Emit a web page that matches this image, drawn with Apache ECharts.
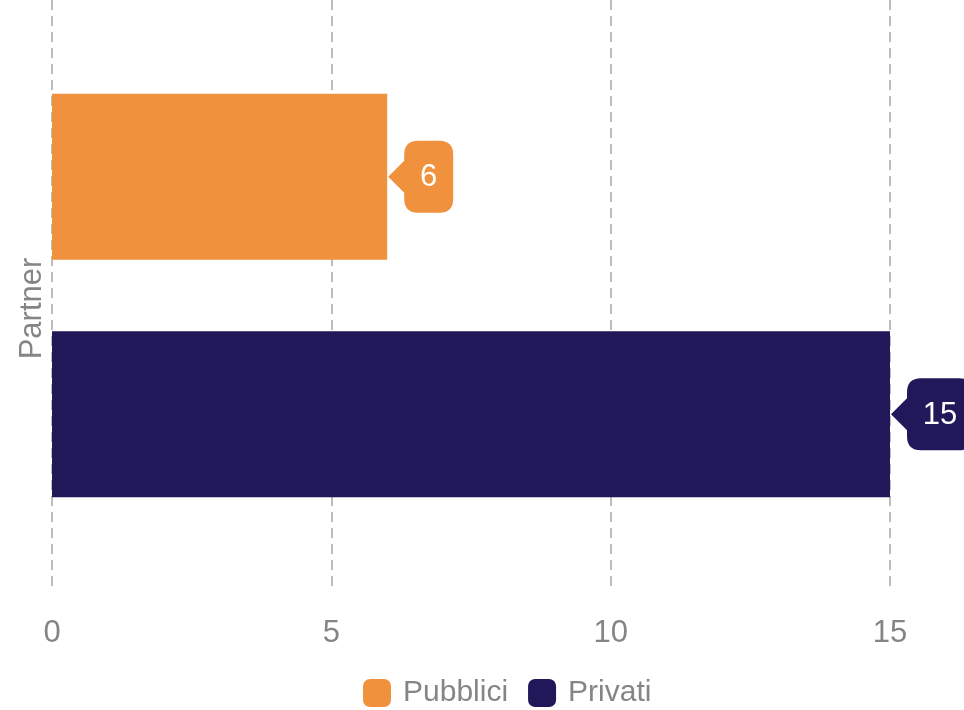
<!DOCTYPE html>
<html>
<head>
<meta charset="utf-8">
<script src="https://cdn.jsdelivr.net/npm/echarts@6/dist/echarts.min.js"></script>
<style>html,body{margin:0;padding:0;background:#fff}#c{width:964px;height:710px}</style>
</head>
<body>
<div id="c"></div>
<script>
const categories = ['Partner'];
const seriesNames = ['Pubblici', 'Privati'];
const pubbliciValues = [6];
const privatiValues = [15];
const xTicks = [0, 5, 10, 15];

const colors = ['#EF913D', '#201858'];
const FONT = '"Liberation Sans", Arial, sans-serif';

function calloutPath(w, h) {
  const a = 16, r = 14, ah = 16, cy = h / 2;
  return 'path://M0 ' + cy + ' L' + a + ' ' + (cy - ah) + ' L' + a + ' ' + r +
    ' Q' + a + ' 0 ' + (a + r) + ' 0 L' + (w - r) + ' 0 Q' + w + ' 0 ' + w + ' ' + r +
    ' L' + w + ' ' + (h - r) + ' Q' + w + ' ' + h + ' ' + (w - r) + ' ' + h +
    ' L' + (a + r) + ' ' + h + ' Q' + a + ' ' + h + ' ' + a + ' ' + (h - r) +
    ' L' + a + ' ' + (cy + ah) + ' Z';
}

function makeSeries(name, values, color) {
  return {
    name: name,
    type: 'bar',
    data: values,
    barWidth: 166,
    barGap: '43%',
    itemStyle: { color: color },
    markPoint: {
      data: values.map((v, i) => {
        const txt = String(v);
        const boxW = txt.length * 17 + 32;
        const W = boxW + 16;
        const H = 72;
        return {
          coord: [v, categories[i]],
          value: v,
          symbol: calloutPath(W, H),
          symbolSize: [W, H],
          symbolKeepAspect: false,
          symbolOffset: [W / 2 + 1, 0],
          itemStyle: { color: color },
          label: {
            show: true,
            position: 'inside',
            offset: [8, 1],
            color: '#fff',
            fontSize: 31,
            fontFamily: FONT,
            formatter: txt
          }
        };
      }),
      animation: false
    }
  };
}

const chart = echarts.init(document.getElementById('c'), null, { renderer: 'canvas' });
chart.setOption({
  animation: false,
  color: colors,
  textStyle: { fontFamily: FONT },
  grid: { left: 52, right: 74, top: -9, bottom: 119, containLabel: false },
  legend: {
    data: seriesNames,
    top: 673,
    left: 358,
    icon: 'roundRect',
    itemWidth: 28,
    itemHeight: 28,
    itemGap: 20,
    textStyle: { color: '#858585', fontSize: 30, fontFamily: FONT, padding: [0, 0, 0, 7] }
  },
  xAxis: {
    type: 'value',
    min: xTicks[0],
    max: xTicks[xTicks.length - 1],
    interval: xTicks[1] - xTicks[0],
    axisLine: { show: false },
    axisTick: { show: false },
    axisLabel: { color: '#858585', fontSize: 31, margin: 27, fontFamily: FONT },
    splitLine: { show: true, lineStyle: { color: '#a8a8a8', width: 1.5, type: [10, 6] } }
  },
  yAxis: {
    type: 'category',
    data: categories,
    inverse: true,
    name: categories[0],
    nameLocation: 'middle',
    nameGap: 4,
    nameTextStyle: { color: '#858585', fontSize: 31, fontFamily: FONT, padding: [0, 26, 0, 0] },
    axisLine: { show: false },
    axisTick: { show: false },
    axisLabel: { show: false },
    splitLine: { show: false }
  },
  series: [
    makeSeries(seriesNames[0], pubbliciValues, colors[0]),
    makeSeries(seriesNames[1], privatiValues, colors[1])
  ]
});
</script>
</body>
</html>
